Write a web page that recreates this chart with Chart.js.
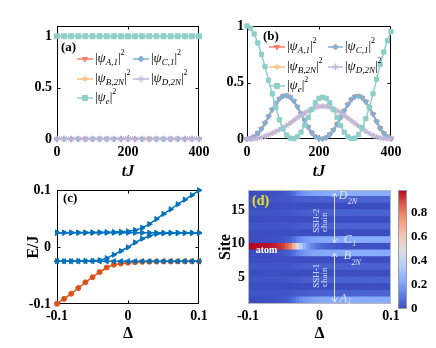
<!DOCTYPE html>
<html><head><meta charset="utf-8">
<title>SSH chains with atom</title>
<script src="https://cdn.jsdelivr.net/npm/chart.js@4/dist/chart.umd.min.js"></script>
<style>
html,body{margin:0;padding:0;background:#fff;}
#wrap{position:relative;width:436px;height:348px;overflow:hidden;background:#fff;}
#wrap canvas{position:absolute;left:0;top:0;width:436px;height:348px;}
</style></head>
<body><div id="wrap">
<canvas id="cA" width="436" height="348"></canvas>
<canvas id="cB" width="436" height="348"></canvas>
<canvas id="cC" width="436" height="348"></canvas>
<canvas id="cD" width="436" height="348"></canvas>
<canvas id="cBar" width="436" height="348"></canvas>
</div>
<script>
// ---------------- DATA ----------------
// panel (a)
const tA = [0,20,40,60,80,100,120,140,160,180,200,220,240,260,280,300,320,340,360,380,400];
const psiA_A1  = [0,0,0,0,0,0,0,0,0,0,0,0,0,0,0,0,0,0,0,0,0];
const psiA_B2N = [0,0,0,0,0,0,0,0,0,0,0,0,0,0,0,0,0,0,0,0,0];
const psiA_C1  = [0,0,0,0,0,0,0,0,0,0,0,0,0,0,0,0,0,0,0,0,0];
const psiA_D2N = [0,0,0,0,0,0,0,0,0,0,0,0,0,0,0,0,0,0,0,0,0];
const psiA_e   = [1,1,1,1,1,1,1,1,1,1,1,1,1,1,1,1,1,1,1,1,1];
// panel (b)
const tB = [0,10,20,30,40,50,60,70,80,90,100,110,120,130,140,150,160,170,180,190,200,210,220,230,240,250,260,270,280,290,300,310,320,330,340,350,360,370,380,390,400];
const psiB_e = [1.00,0.98,0.93,0.85,0.75,0.64,0.52,0.40,0.28,0.17,0.09,0.035,0.008,0.003,0.02,0.06,0.12,0.19,0.26,0.32,0.36,0.37,0.36,0.32,0.26,0.19,0.12,0.06,0.02,0.003,0.008,0.04,0.10,0.18,0.28,0.40,0.53,0.66,0.77,0.87,0.95];
const psiB_A1 = [0,0.005,0.02,0.05,0.09,0.14,0.20,0.26,0.315,0.355,0.38,0.385,0.37,0.335,0.285,0.225,0.165,0.105,0.055,0.02,0.003,0.001,0.012,0.04,0.08,0.13,0.19,0.25,0.305,0.35,0.375,0.38,0.365,0.33,0.28,0.22,0.155,0.095,0.05,0.02,0.005];
const psiB_C1 = [0,0.005,0.02,0.05,0.09,0.14,0.20,0.26,0.315,0.355,0.38,0.385,0.37,0.335,0.285,0.225,0.165,0.105,0.055,0.02,0.003,0.001,0.012,0.04,0.08,0.13,0.19,0.25,0.305,0.35,0.375,0.38,0.365,0.33,0.28,0.22,0.155,0.095,0.05,0.02,0.005];
const psiB_B2N = [0,0.001,0.003,0.007,0.014,0.024,0.036,0.05,0.066,0.083,0.10,0.12,0.142,0.165,0.188,0.21,0.23,0.25,0.266,0.279,0.287,0.29,0.288,0.28,0.268,0.252,0.232,0.21,0.186,0.162,0.138,0.114,0.09,0.068,0.049,0.033,0.02,0.011,0.005,0.002,0];
const psiB_D2N = [0,0.001,0.003,0.007,0.014,0.024,0.036,0.05,0.066,0.083,0.10,0.12,0.142,0.165,0.188,0.21,0.23,0.25,0.266,0.279,0.287,0.29,0.288,0.28,0.268,0.252,0.232,0.21,0.186,0.162,0.138,0.114,0.09,0.068,0.049,0.033,0.02,0.011,0.005,0.002,0];
// panel (c)
const deltaC = [-0.1,-0.09,-0.08,-0.07,-0.06,-0.05,-0.04,-0.03,-0.02,-0.01,0,0.01,0.02,0.03,0.04,0.05,0.06,0.07,0.08,0.09,0.1];
const E1 = [-0.0995,-0.091,-0.082,-0.072,-0.062,-0.053,-0.044,-0.036,-0.031,-0.029,-0.0275,-0.0266,-0.026,-0.0257,-0.0255,-0.0254,-0.0253,-0.0253,-0.0252,-0.0252,-0.0252];
const E2 = [-0.025,-0.025,-0.025,-0.025,-0.025,-0.025,-0.025,-0.025,-0.025,-0.025,-0.025,-0.025,-0.025,-0.025,-0.025,-0.025,-0.025,-0.025,-0.025,-0.025,-0.025];
const E3 = [-0.0248,-0.0248,-0.0247,-0.0246,-0.0244,-0.024,-0.0232,-0.0196,-0.0135,-0.007,-0.0005,0.008,0.0145,0.0195,0.023,0.024,0.0243,0.0244,0.0245,0.0245,0.0245];
const E4 = [0.025,0.025,0.025,0.025,0.025,0.025,0.025,0.025,0.025,0.025,0.025,0.025,0.025,0.025,0.025,0.025,0.025,0.025,0.025,0.025,0.025];
const E5 = [0.0252,0.0252,0.0253,0.0253,0.0254,0.0255,0.0257,0.026,0.0263,0.0268,0.0275,0.0295,0.0335,0.040,0.049,0.058,0.066,0.075,0.083,0.091,0.0995];
// panel (d)
const deltaD = [-0.1,-0.095,-0.09,-0.085,-0.08,-0.075,-0.07,-0.065,-0.06,-0.055,-0.05,-0.045,-0.04,-0.035,-0.03,-0.025,-0.02,-0.015,-0.01,-0.005,0,0.005,0.01,0.015,0.02,0.025,0.03,0.035,0.04,0.045,0.05,0.055,0.06,0.065,0.07,0.075,0.08,0.085,0.09,0.095,0.1];
const sites = [1,2,3,4,5,6,7,8,9,10,11,12,13,14,15,16,17];
const siteKinds = ['edge','stripe','bulk','stripe','bulk','stripe','bulk','edge','atom','edge','bulk','stripe','bulk','stripe','bulk','stripe','edge'];
const atomRow = [0.99,0.99,0.985,0.985,0.98,0.975,0.97,0.96,0.95,0.93,0.91,0.87,0.80,0.68,0.50,0.36,0.26,0.19,0.14,0.10,0.075,0.06,0.048,0.038,0.031,0.026,0.022,0.019,0.017,0.015,0.014,0.013,0.012,0.011,0.011,0.010,0.010,0.010,0.009,0.009,0.009];
const edgeRow = [0.002,0.002,0.004,0.004,0.005,0.006,0.007,0.01,0.012,0.017,0.022,0.031,0.048,0.077,0.12,0.153,0.177,0.194,0.206,0.216,0.222,0.225,0.228,0.231,0.232,0.234,0.235,0.235,0.236,0.236,0.237,0.237,0.237,0.237,0.237,0.238,0.238,0.238,0.238,0.238,0.238];
const stripeRow = [0.02,0.02,0.02,0.02,0.02,0.02,0.02,0.021,0.021,0.022,0.023,0.024,0.026,0.029,0.033,0.037,0.04,0.042,0.044,0.045,0.046,0.047,0.047,0.048,0.048,0.048,0.048,0.049,0.049,0.049,0.049,0.049,0.05,0.05,0.05,0.05,0.05,0.05,0.05,0.05,0.05];
const bulkRow = [0.004,0.004,0.004,0.004,0.004,0.004,0.004,0.004,0.004,0.004,0.004,0.004,0.004,0.004,0.004,0.004,0.004,0.004,0.004,0.004,0.004,0.004,0.004,0.004,0.004,0.004,0.004,0.004,0.004,0.004,0.004,0.004,0.004,0.004,0.004,0.004,0.004,0.004,0.004,0.004,0.004];
const colorMax = 0.99;
// ticks
const tTicks = [0,200,400], tTickLabels = ['0','200','400'];
const pTicks = [0,0.5,1], pTickLabels = ['0','0.5','1'];
const dTicks = [-0.1,0,0.1], dTickLabels = ['-0.1','0','0.1'];
const eTicks = [-0.1,0,0.1], eTickLabels = ['-0.1','0','0.1'];
const sTicks = [5,10,15], sTickLabels = ['5','10','15'];
const cbTicks = [0,0.2,0.4,0.6,0.8], cbTickLabels = ['0','0.2','0.4','0.6','0.8'];

// ---------------- STYLE ----------------
const FONT = "'Liberation Serif','Times New Roman',Times,serif";
const CW = 436, CH = 348;
Chart.defaults.font.family = FONT;
const RED='#FA7F6F', ORANGE='#FFBE7A', BLUE='#82B0D2', PURPLE='#BEB8DC', TEAL='#8ECFC9';
const MBLUE='#0072BD', MORANGE='#D95319';

function padFor(a, yW, xH){ return {left:a.left-yW, right:CW-a.right, top:a.top, bottom:CH-a.bottom-xH}; }
function axis(o){
  return {
    type:'linear', min:o.min, max:o.max, position:o.position, offset:false, display:o.display!==false,
    afterBuildTicks:s=>{ s.ticks = o.ticks.map(v=>({value:v})); },
    afterFit:s=>{ if(o.w!=null) s.width=o.w; if(o.h!=null) s.height=o.h; },
    ticks:{callback:(v,i)=>o.labels[i], font:{family:FONT,size:o.fs||14,weight:'bold'}, color:'#000', padding:o.pad, maxRotation:0, autoSkip:false},
    grid:{display:false, drawTicks:false},
    border:{display:false},
    title: o.title ? {display:true, text:o.title, color:'#000', padding:{top:0,bottom:0},
      font:{family:FONT,size:16,weight:'bold',style:o.titleStyle||'normal'}} : {display:false}
  };
}
function baseOpts(pad, scales){
  return {responsive:false, maintainAspectRatio:false, animation:false, devicePixelRatio:1, events:[],
    layout:{padding:pad}, scales,
    plugins:{legend:{display:false}, tooltip:{enabled:false}}};
}
function lineDs(xs, ys, color, style, rot, r, lw){
  return {data:xs.map((x,i)=>({x:x, y:ys[i]})), borderColor:color, backgroundColor:color,
    pointStyle:style, pointRotation:rot||0, pointRadius:r, pointBorderColor:color, pointBackgroundColor:color,
    pointBorderWidth:1, borderWidth:lw, tension:0, clip:false};
}
function drawRich(ctx, x, y, parts, color){
  ctx.save(); ctx.fillStyle=color; ctx.textBaseline='middle'; ctx.textAlign='left';
  let cx=x;
  parts.forEach(p=>{ ctx.font=p.f; ctx.fillText(p.t, cx, y+(p.dy||0)); cx+=ctx.measureText(p.t).width+(p.gap||0); });
  ctx.restore();
}
function marker(ctx, style, rot, r, x, y, color){
  ctx.save(); ctx.fillStyle=color; ctx.strokeStyle=color; ctx.lineWidth=1;
  if (Chart.helpers && Chart.helpers.drawPoint){
    Chart.helpers.drawPoint(ctx, {pointStyle:style, rotation:rot||0, radius:r, borderWidth:1}, x, y);
  } else { ctx.beginPath(); ctx.arc(x,y,r,0,Math.PI*2); ctx.fill(); }
  ctx.restore();
}
function makeFrame(id, color, ticks, after){
  const draw = chart=>{
    const {ctx, chartArea:a} = chart;
    const L=Math.round(a.left)+0.5, R=Math.round(a.right)-0.5, T=Math.round(a.top)+0.5, B=Math.round(a.bottom)-0.5;
    ctx.save(); ctx.strokeStyle=color; ctx.lineWidth=1;
    ctx.strokeRect(L,T,R-L,B-T);
    if (ticks){
      const tl=3; ctx.beginPath();
      chart.scales.x.ticks.forEach(t=>{ const p=Math.round(chart.scales.x.getPixelForValue(t.value))+0.5;
        if(p-L<2||R-p<2) return; ctx.moveTo(p,B); ctx.lineTo(p,B-tl); ctx.moveTo(p,T); ctx.lineTo(p,T+tl); });
      chart.scales.y.ticks.forEach(t=>{ const p=Math.round(chart.scales.y.getPixelForValue(t.value))+0.5;
        if(p-T<2||B-p<2) return; ctx.moveTo(L,p); ctx.lineTo(L+tl,p); ctx.moveTo(R,p); ctx.lineTo(R-tl,p); });
      ctx.stroke();
    }
    ctx.restore();
  };
  return after ? {id, afterDatasetsDraw:draw} : {id, beforeDatasetsDraw:draw};
}
function psiLabel(sub){
  return [
    {t:'|', f:'13px '+FONT},
    {t:'ψ', f:'italic 13px '+FONT},
    {t:sub, f:'italic 9px '+FONT, dy:4},
    {t:'|', f:'13px '+FONT},
    {t:'2', f:'8px '+FONT, dy:-6}
  ];
}
function makeLegend(id, panelLabel, items){
  return {id, afterDatasetsDraw(chart){
    const ctx=chart.ctx;
    drawRich(ctx, panelLabel.x, panelLabel.y, [{t:panelLabel.t, f:'bold 13px '+FONT}], '#000');
    items.forEach(it=>{
      ctx.save(); ctx.strokeStyle=it.color; ctx.lineWidth=1.5;
      ctx.beginPath(); ctx.moveTo(it.x1,it.y); ctx.lineTo(it.x2,it.y); ctx.stroke(); ctx.restore();
      marker(ctx, it.style, it.rot, it.r, (it.x1+it.x2)/2, it.y, it.color);
      drawRich(ctx, it.tx, it.y, psiLabel(it.sub), '#000');
    });
  }};
}

// ---------------- PANEL (a) ----------------
const areaA = {left:57,right:199,top:26,bottom:139};
new Chart(document.getElementById('cA'), {
  type:'line',
  data:{datasets:[
    lineDs(tA, psiA_e, TEAL, 'rect', 0, 3.5, 1.5),
    lineDs(tA, psiA_D2N, PURPLE, 'star', 0, 3.5, 1.5),
    lineDs(tA, psiA_C1, BLUE, 'rectRot', 0, 3, 1.5),
    lineDs(tA, psiA_B2N, ORANGE, 'star', 0, 3, 1.5),
    lineDs(tA, psiA_A1, RED, 'triangle', 180, 3, 1.5)
  ]},
  options: baseOpts(padFor(areaA,30,42), {
    x: axis({min:0,max:400,ticks:tTicks,labels:tTickLabels,h:42,pad:5,position:'bottom',title:'tJ',titleStyle:'italic'}),
    y: axis({min:0,max:1.1,ticks:pTicks,labels:pTickLabels,w:30,pad:5,position:'left'})
  }),
  plugins:[makeFrame('frameA','#000',true,false), makeLegend('legA',{t:'(a)',x:61,y:48},[
    {x1:77,x2:93,tx:95,y:59,color:RED,style:'triangle',rot:180,r:3,sub:'A,1'},
    {x1:133,x2:149,tx:151,y:59,color:BLUE,style:'rectRot',rot:0,r:3,sub:'C,1'},
    {x1:77,x2:93,tx:95,y:79,color:ORANGE,style:'star',rot:0,r:3,sub:'B,2N'},
    {x1:133,x2:149,tx:151,y:79,color:PURPLE,style:'star',rot:0,r:3.5,sub:'D,2N'},
    {x1:77,x2:93,tx:95,y:98,color:TEAL,style:'rect',rot:0,r:3.5,sub:'e'}
  ])]
});

// ---------------- PANEL (b) ----------------
const areaB = {left:247,right:391,top:26,bottom:139};
new Chart(document.getElementById('cB'), {
  type:'line',
  data:{datasets:[
    lineDs(tB, psiB_e, TEAL, 'rect', 0, 3, 1.5),
    lineDs(tB, psiB_D2N, PURPLE, 'star', 0, 3, 2),
    lineDs(tB, psiB_C1, BLUE, 'rectRot', 0, 2.6, 2),
    lineDs(tB, psiB_B2N, ORANGE, 'star', 0, 2.5, 1.5),
    lineDs(tB, psiB_A1, RED, 'triangle', 180, 3, 1.5)
  ]},
  options: baseOpts(padFor(areaB,30,42), {
    x: axis({min:0,max:400,ticks:tTicks,labels:tTickLabels,h:42,pad:5,position:'bottom',title:'tJ',titleStyle:'italic'}),
    y: axis({min:0,max:1,ticks:pTicks,labels:pTickLabels,w:30,pad:3,position:'left'})
  }),
  plugins:[makeFrame('frameB','#000',true,false), makeLegend('legB',{t:'(b)',x:263,y:37},[
    {x1:269,x2:285,tx:287,y:47,color:RED,style:'triangle',rot:180,r:3,sub:'A,1'},
    {x1:328,x2:343,tx:345,y:47,color:BLUE,style:'rectRot',rot:0,r:3,sub:'C,1'},
    {x1:269,x2:285,tx:287,y:67,color:ORANGE,style:'star',rot:0,r:3,sub:'B,2N'},
    {x1:328,x2:343,tx:345,y:67,color:PURPLE,style:'star',rot:0,r:3.5,sub:'D,2N'},
    {x1:269,x2:285,tx:287,y:86,color:TEAL,style:'rect',rot:0,r:3.5,sub:'e'}
  ])]
});

// ---------------- PANEL (c) ----------------
const areaC = {left:57,right:199,top:190,bottom:304};
new Chart(document.getElementById('cC'), {
  type:'line',
  data:{datasets:[
    lineDs(deltaC, E5, MBLUE, 'triangle', 90, 3, 1.5),
    lineDs(deltaC, E4, MBLUE, 'triangle', 90, 3, 1.5),
    lineDs(deltaC, E3, MBLUE, 'triangle', 90, 3, 1.5),
    lineDs(deltaC, E2, MBLUE, 'triangle', -90, 3, 1.5),
    lineDs(deltaC, E1, MORANGE, 'circle', 0, 2.5, 1.5)
  ]},
  options: baseOpts(padFor(areaC,33,39), {
    x: axis({min:-0.1,max:0.1,ticks:dTicks,labels:dTickLabels,h:39,pad:4,position:'bottom',title:'Δ'}),
    y: axis({min:-0.1,max:0.1,ticks:eTicks,labels:eTickLabels,w:33,pad:6,position:'left',title:'E/J'})
  }),
  plugins:[makeFrame('frameC','#000',true,false), {id:'labC', afterDatasetsDraw(chart){
    drawRich(chart.ctx, 63, 199, [{t:'(c)', f:'bold 13px '+FONT}], '#000');
  }}]
});

// ---------------- PANEL (d) ----------------
const CM = [[59,76,192],[98,130,234],[141,176,254],[184,208,249],[221,221,221],[245,196,173],[244,154,123],[222,96,77],[180,4,38]];
function cmap(v){
  let t = Math.max(0, Math.min(1, v/colorMax))*8;
  const i = Math.min(7, Math.floor(t)); const f = t-i; const a=CM[i], b=CM[i+1];
  return 'rgb('+Math.round(a[0]+(b[0]-a[0])*f)+','+Math.round(a[1]+(b[1]-a[1])*f)+','+Math.round(a[2]+(b[2]-a[2])*f)+')';
}
const rowByKind = {atom:atomRow, edge:edgeRow, stripe:stripeRow, bulk:bulkRow};
const heatSets = sites.map((s,k)=>{
  const row = rowByKind[siteKinds[k]];
  return {data: deltaD.map(d=>({x:d, y:[s, s+1]})), backgroundColor: row.map(cmap),
    borderWidth:0, grouped:false, barPercentage:1, categoryPercentage:1, inflateAmount:0.7};
});
const areaD = {left:248,right:391,top:190,bottom:304};
const noteColor = '#dde3f6';
new Chart(document.getElementById('cD'), {
  type:'bar',
  data:{datasets:heatSets},
  options: baseOpts(padFor(areaD,32,39), {
    x: axis({min:-0.1,max:0.1,ticks:dTicks,labels:dTickLabels,h:39,pad:4,position:'bottom',title:'Δ'}),
    y: axis({min:1,max:18,ticks:sTicks,labels:sTickLabels,w:32,pad:3,position:'left',title:'Site'})
  }),
  plugins:[makeFrame('frameD','#b8b8b8',false,true), {id:'notesD', afterDatasetsDraw(chart){
    const {ctx, scales:{x,y}} = chart;
    const X=v=>x.getPixelForValue(v), Y=v=>y.getPixelForValue(v);
    drawRich(ctx, X(-0.0944), Y(16.35), [{t:'(d)', f:'bold 14px '+FONT}], '#e8e41a');
    drawRich(ctx, X(-0.0892), Y(9.05), [{t:'atom', f:'bold 10px '+FONT}], '#ffffff');
    // double arrows
    ctx.save(); ctx.strokeStyle=noteColor; ctx.lineWidth=1;
    const ax = Math.round(X(0.0203))+0.5;
    [[17.55,10.1],[8.6,1.3]].forEach(([a,b])=>{
      const y1=Y(a), y2=Y(b);
      ctx.beginPath(); ctx.moveTo(ax,y1); ctx.lineTo(ax,y2);
      ctx.moveTo(ax-2.5,y1+4); ctx.lineTo(ax,y1); ctx.lineTo(ax+2.5,y1+4);
      ctx.moveTo(ax-2.5,y2-4); ctx.lineTo(ax,y2); ctx.lineTo(ax+2.5,y2-4);
      ctx.stroke();
    });
    ctx.restore();
    // rotated chain labels
    ctx.save(); ctx.fillStyle=noteColor; ctx.font='9px '+FONT; ctx.textAlign='center'; ctx.textBaseline='middle';
    [['SSH-2',-0.0035,13.4],['chain',0.0077,13.2],['SSH-1',-0.0035,5.2],['chain',0.0077,5.0]].forEach(([t,dx,sy])=>{
      ctx.save(); ctx.translate(X(dx), Y(sy)); ctx.rotate(-Math.PI/2); ctx.fillText(t,0,0); ctx.restore();
    });
    ctx.restore();
    // site labels
    const L = (m, sub, dx, sy, dy)=>drawRich(ctx, X(dx), Y(sy), [{t:m, f:'italic 12px '+FONT, gap:0.5},{t:sub, f:'italic 8px '+FONT, dy:dy}], noteColor);
    L('D','2N',0.0268,17.1,5.5);
    L('C','1',0.0338,10.54,4);
    L('B','2N',0.0338,8.23,7);
    L('A','1',0.0282,1.82,3);
  }}]
});

// ---------------- COLORBAR ----------------
const areaBar = {left:398,right:407,top:190,bottom:309};
new Chart(document.getElementById('cBar'), {
  type:'scatter',
  data:{datasets:[{data:[]}]},
  options: baseOpts({left:areaBar.left, right:CW-areaBar.right-29, top:areaBar.top, bottom:CH-areaBar.bottom}, {
    x: axis({min:0,max:1,ticks:[0,1],labels:['',''],display:false}),
    y: axis({min:0,max:colorMax,ticks:cbTicks,labels:cbTickLabels,w:29,pad:4,position:'right',fs:13})
  }),
  plugins:[{id:'cbar', beforeDatasetsDraw(chart){
    const {ctx, chartArea:a, scales:{y}} = chart;
    const y0=y.getPixelForValue(0), y1=y.getPixelForValue(colorMax);
    const g=ctx.createLinearGradient(0,y0,0,y1);
    CM.forEach((c,i)=>g.addColorStop(i/8,'rgb('+c[0]+','+c[1]+','+c[2]+')'));
    ctx.save(); ctx.fillStyle=g; ctx.fillRect(a.left, y1, a.right-a.left, y0-y1); ctx.restore();
  }}, makeFrame('frameBar','#9a9a9a',false,true)]
});
</script></body></html>
